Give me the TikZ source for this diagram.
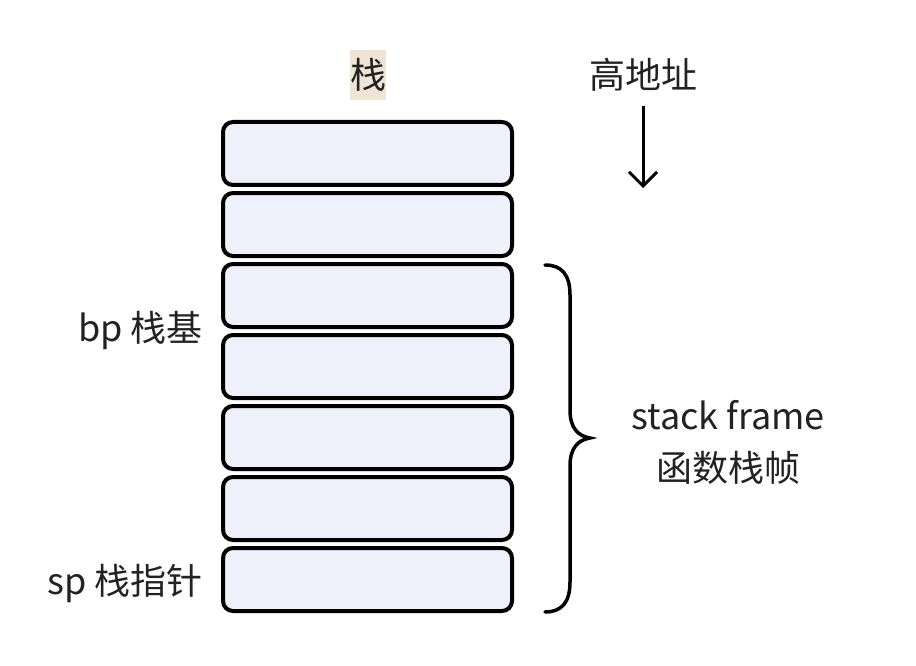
\documentclass[tikz,border=0pt]{standalone}
\usepackage{fontspec}
\setmainfont{Noto Sans CJK SC}
\usetikzlibrary{positioning}
\usetikzlibrary{arrows.meta}

\definecolor{slotfill}{RGB}{238,241,249}
\definecolor{titlebg}{RGB}{240,228,214}
\definecolor{inkgray}{RGB}{34,34,34}

\begin{document}
\begin{tikzpicture}[
		x=1pt,y=-1pt,
		>={Straight Barb[length=14pt,width=28pt,line width=3pt]},
		slot/.style={draw=black,fill=slotfill,line width=4pt,rectangle,rounded corners=10pt,minimum width=289pt,minimum height=63pt,inner sep=0pt},
		lbl/.style={draw=none,fill=none,text=inkgray,font=\fontsize{36}{42}\selectfont,inner sep=0pt}
	]
		\useasboundingbox (0,0) rectangle (916,666);

		% stack slots, top to bottom
		\foreach \i in {1,...,7} {
			\node [slot] (slot\i) at (367.5,{153.5+71*(\i-1)}) {};
		}

		\node [lbl,fill=titlebg,minimum width=36pt,minimum height=50pt] (title) at (368,75) {栈};
		\node [lbl] (high) at (643,75) {高地址};
		\coordinate (arrowstart) at (643,106);
		\coordinate (arrowend) at (643,188);
		\draw [->,line width=3pt] (arrowstart) -- (arrowend);

		\node [lbl,anchor=east] (bp) at (203,331) {bp 栈基};
		\node [lbl,anchor=east] (sp) at (203,583) {sp 栈指针};

		% brace over the frame
		\draw [line width=3.5pt,line cap=round]
			(545,265) .. controls (562,265) and (570,275) .. (570,295)
			-- (570,410) .. controls (570,428) and (578,436) .. (590,438)
			.. controls (578,440) and (570,448) .. (570,466)
			-- (570,582) .. controls (570,602) and (562,612) .. (545,612);
		\node [lbl] (frame) at (728,415) {stack frame};
		\node [lbl,below=53pt of frame.center,anchor=center] (framecn) {函数栈帧};
	\end{tikzpicture}
\end{document}
